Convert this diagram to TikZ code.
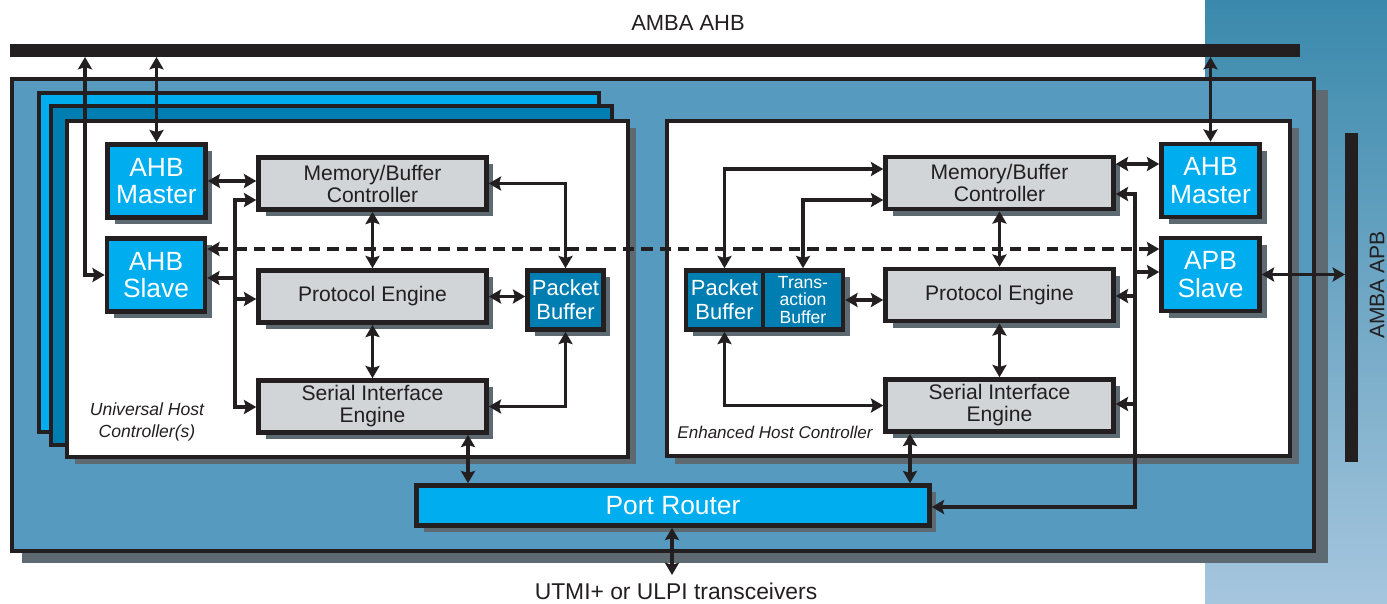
\documentclass[tikz,border=0pt]{standalone}
\usepackage{fontspec}
\setmainfont{Liberation Sans}
\usetikzlibrary{arrows.meta,shadows}

\definecolor{panelblue}{RGB}{87,154,191}
\definecolor{brightblue}{RGB}{0,173,239}
\definecolor{deepblue}{RGB}{0,126,177}
\definecolor{blockgray}{RGB}{209,213,216}
\definecolor{shadegray}{RGB}{94,106,114}
\definecolor{inkblack}{RGB}{35,31,32}
\definecolor{sidetop}{RGB}{58,137,172}
\definecolor{sidebot}{RGB}{166,198,222}

\tikzset{
  blk/.style={draw=inkblack, line width=2.6pt, inner sep=0pt, align=center,
    drop shadow={shadow xshift=0.14cm, shadow yshift=-0.13cm, opacity=1, fill=shadegray}},
  graybox/.style={blk, fill=blockgray, text=inkblack, minimum width=4.56cm,
    minimum height=1.04cm, font=\fontsize{12}{12.5}\selectfont},
  ahbbox/.style={blk, fill=brightblue, text=white, minimum width=1.96cm,
    minimum height=1.46cm, font=\fontsize{15}{15.5}\selectfont},
  bufbox/.style={blk, fill=deepblue, text=white, minimum height=1.18cm},
  frame/.style={draw=inkblack, line width=2.7pt},
  bar/.style={fill=inkblack, inner sep=0pt, outer sep=0pt},
  label/.style={text=inkblack, inner sep=0pt},
  link/.style={draw=inkblack, line width=2pt},
  dbl/.style={link, {Stealth[length=7pt,width=8pt,inset=1.2pt]}-{Stealth[length=7pt,width=8pt,inset=1.2pt]}},
  sgl/.style={link, -{Stealth[length=7pt,width=8pt,inset=1.2pt]}},
}

\begin{document}
\begin{tikzpicture}[x=0.02cm, y=-0.02cm]
  \useasboundingbox (0,0) rectangle (1387,603);
  \fill[white] (0,0) rectangle (1387,603);
  \shade[top color=sidetop, bottom color=sidebot] (1205,0) rectangle (1387,603);

  % buses
  \node[bar, minimum width=25.8cm, minimum height=0.26cm] (ahb) at (655,50.5) {};
  \node[bar, minimum width=0.26cm, minimum height=6.58cm] (apb) at (1351.5,297.5) {};
  \node[label, font=\fontsize{12.5}{13}\selectfont] (ahblabel) at (688,23) {AMBA AHB};
  \node[label, rotate=90, font=\fontsize{12}{13}\selectfont] (apblabel) at (1377,285) {AMBA APB};

  % outer box
  \fill[shadegray] (22,90) rectangle (1328,563);
  \draw[frame, fill=panelblue] (12,79) rectangle (1314,551);

  % stacked host controllers
  \draw[frame, fill=brightblue] (39,93) rectangle (599,432);
  \draw[frame, fill=deepblue] (51,106) rectangle (612,445);
  \fill[shadegray] (75,128) rectangle (636,464);
  \draw[frame, fill=white] (67,121) rectangle (628,457);
  \fill[shadegray] (675,128) rectangle (1299,464);
  \draw[frame, fill=white] (667,121) rectangle (1290,456);

  \node[label, font=\itshape\fontsize{10}{12.5}\selectfont, align=center] (uhc) at (147,422) {Universal Host\\Controller(s)};
  \node[label, font=\itshape\fontsize{9.7}{12}\selectfont] (ehc) at (775,432) {Enhanced Host Controller};

  % universal host controller
  \node[ahbbox] (lmaster) at (156.5,181) {AHB\\Master};
  \node[ahbbox] (lslave) at (156,275) {AHB\\Slave};
  \node[graybox] (lmbc) at (372.5,183.5) {Memory/Buffer\\Controller};
  \node[graybox] (lpe) at (372.5,296.5) {Protocol Engine};
  \node[graybox] (lsie) at (372.5,406.5) {Serial Interface\\Engine};
  \node[bufbox, minimum width=1.52cm, font=\fontsize{12.5}{13.7}\selectfont] (lpb) at (565.5,300) {Packet\\Buffer};

  % enhanced host controller
  \node[graybox] (rmbc) at (999.5,183) {Memory/Buffer\\Controller};
  \node[graybox] (rpe) at (999.5,295) {Protocol Engine};
  \node[graybox] (rsie) at (999.5,405.5) {Serial Interface\\Engine};
  \node[ahbbox] (rmaster) at (1210.5,180.5) {AHB\\Master};
  \node[ahbbox] (rslave) at (1210.5,274.5) {APB\\Slave};
  \node[bufbox, minimum width=1.54cm, font=\fontsize{12.5}{13.7}\selectfont] (rpb) at (724.5,300) {Packet\\Buffer};
  \node[bufbox, minimum width=1.6cm, font=\fontsize{10}{9.7}\selectfont] (rtb) at (803,300) {Trans-\\action\\Buffer};

  \node[blk, fill=brightblue, text=white, minimum width=10.26cm, minimum height=0.8cm,
    font=\fontsize{15}{16}\selectfont] (router) at (673,505.5) {Port Router};
  \node[label, font=\fontsize{13}{14}\selectfont] (utmi) at (676,591) {UTMI+ or ULPI transceivers};

  % AHB connections
  \coordinate (lbus) at (85,0);
  \draw[dbl] (lbus |- ahb.south) |- (lslave.west);
  \draw[dbl] (lmaster.north |- ahb.south) -- (lmaster.north);
  \draw[dbl] (rmaster.north |- ahb.south) -- (rmaster.north);
  \draw[dbl] (lmaster.east) -- (lmaster.east -| lmbc.west);

  % left internal bus
  \coordinate (lb1) at (235,200);
  \coordinate (lb2) at (235,278);
  \coordinate (lb3) at (235,299);
  \coordinate (lb4) at (235,407);
  \draw[sgl] (lb4) |- (lb1 -| lmbc.west);
  \draw[sgl] (lb1) |- (lb4 -| lsie.west);
  \draw[sgl] (lb2) -- (lb2 -| lslave.east);
  \draw[sgl] (lb3) -- (lb3 -| lpe.west);

  \draw[dbl] (lmbc.south) -- (lpe.north);
  \draw[dbl] (lpe.south) -- (lsie.north);
  \draw[dbl] (lmbc.east) -| (lpb.north);
  \draw[dbl] (lpe.east) -- (lpe.east -| lpb.west);
  \draw[dbl] (lpb.south) |- (lsie.east);
  \coordinate (lrt) at (468,0);
  \draw[dbl] (lrt |- lsie.south) -- (lrt |- router.north);

  % slave link
  \coordinate (dl) at (0,249);
  \draw[dbl, line width=2.4pt, dash pattern=on 6.5pt off 4pt] (dl -| lslave.east) -- (dl -| rslave.west);

  % right side
  \coordinate (rm) at (0,164);
  \coordinate (ra) at (0,169);
  \coordinate (rb) at (0,200);
  \draw[dbl] (rm -| rmbc.east) -- (rm -| rmaster.west);
  \draw[dbl] (ra -| rmbc.west) -| (rpb.north);
  \draw[dbl] (rb -| rmbc.west) -| (rtb.north);
  \draw[dbl] (rtb.east) -- (rtb.east -| rpe.west);
  \draw[dbl] (rmbc.south) -- (rpe.north);
  \draw[dbl] (rpe.south) -- (rsie.north);
  \draw[dbl] (rpb.south) |- (rsie.west);
  \coordinate (rrt) at (910,0);
  \draw[dbl] (rrt |- rsie.south) -- (rrt |- router.north);

  % right internal bus
  \coordinate (rb1) at (1135,194);
  \coordinate (rb2) at (1135,272);
  \coordinate (rb3) at (1135,296);
  \coordinate (rb4) at (1135,404);
  \coordinate (rb5) at (1135,507);
  \draw[sgl] (rb5) |- (rb1 -| rmbc.east);
  \draw[sgl] (rb1) |- (rb5 -| router.east);
  \draw[sgl] (rb2) -- (rb2 -| rslave.west);
  \draw[sgl] (rb3) -- (rb3 -| rpe.east);
  \draw[sgl] (rb4) -- (rb4 -| rsie.east);
  \draw[dbl] (rslave.east) -- (rslave.east -| apb.west);

  \coordinate (ut) at (672,575);
  \draw[dbl] (ut |- router.south) -- (ut);
\end{tikzpicture}
\end{document}
